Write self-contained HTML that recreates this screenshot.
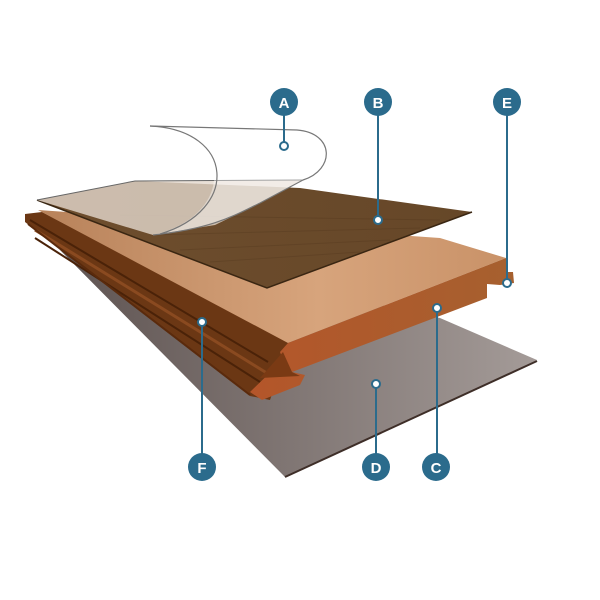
<!DOCTYPE html>
<html><head><meta charset="utf-8"><style>
html,body{margin:0;padding:0;background:#fff;}
svg{display:block;}
text{font-family:"Liberation Sans",sans-serif;font-weight:bold;font-size:15px;fill:#fff;text-anchor:middle;}
</style></head><body>
<svg width="600" height="600" viewBox="0 0 600 600" xmlns="http://www.w3.org/2000/svg">
<defs>
<linearGradient id="gray" x1="0" y1="0" x2="1" y2="0">
<stop offset="0" stop-color="#5d5250"/><stop offset="1" stop-color="#a49b98"/></linearGradient>
<linearGradient id="top" x1="0" y1="0" x2="1" y2="0">
<stop offset="0" stop-color="#b8825a"/><stop offset="0.6" stop-color="#d7a47c"/><stop offset="1" stop-color="#c99268"/></linearGradient>
<linearGradient id="endf" x1="0" y1="0" x2="1" y2="0">
<stop offset="0" stop-color="#b4562a"/><stop offset="1" stop-color="#a6602f"/></linearGradient>
<linearGradient id="ven" x1="0" y1="0" x2="1" y2="0">
<stop offset="0" stop-color="#6e4e2e"/><stop offset="1" stop-color="#664728"/></linearGradient>
</defs>
<polygon points="50,232 440,318 537,360 285,477 60,250" fill="url(#gray)"/>
<line x1="285" y1="477" x2="537" y2="361" stroke="#3e2e28" stroke-width="2"/>
<polygon points="25,214 42,212 290,342 270,400 250,396 25,222" fill="#6b3714"/>
<polyline points="30,220 268,362" stroke="#4a2208" stroke-width="2" fill="none"/>
<polyline points="35,230 270,375" stroke="#8a4a20" stroke-width="3" fill="none"/>
<polyline points="35,238 260,382" stroke="#4a2208" stroke-width="2" fill="none"/>
<polyline points="28,224 250,395" stroke="#5a2a0c" stroke-width="2" fill="none"/>
<polygon points="38,210 440,238 506,258 288,343" fill="url(#top)"/>
<polygon points="288,343 506,258 506,272 513,272 514,283 500,285 487,284 487,298 292,372 305,375 300,385 262,400 250,392 283,360 280,352" fill="url(#endf)"/>
<polygon points="283,352 292,372 300,376 260,378" fill="#7a3a14"/>
<polygon points="37,200 135,181 300,188 472,212 267,288" fill="url(#ven)"/>
<g stroke="#4a3018" stroke-width="1" opacity="0.25">
<line x1="120" y1="215" x2="440" y2="220"/><line x1="150" y1="235" x2="420" y2="228"/>
<line x1="180" y1="250" x2="390" y2="240"/><line x1="210" y1="262" x2="360" y2="252"/>
</g>
<polyline points="37,200 267,288 472,212" stroke="#3a2612" stroke-width="1.5" fill="none"/>
<polygon points="37,200 135,181 303,180 260,203 215,225 153,235" fill="#e3d8cd" opacity="0.8"/>
<path d="M37,200 L135,181 L303,180" stroke="#666" stroke-width="1" fill="none"/>
<path d="M150,126 L297,130 C335,133 335,170 303,180 L260,203 C235,215 215,228 153,235 C238,215 232,130 150,126 Z" fill="#fff" opacity="0.4"/>
<path d="M150,126 L297,130 C335,133 335,170 303,180 L260,203 C235,215 215,228 153,235" stroke="#777" stroke-width="1.2" fill="none"/>
<path d="M150,126 C235,130 240,210 160,234" stroke="#777" stroke-width="1.2" fill="none"/>
<g stroke="#2b6b8c" stroke-width="2" fill="none">
<line x1="284" y1="102" x2="284" y2="146"/>
<line x1="378" y1="102" x2="378" y2="220"/>
<line x1="507" y1="102" x2="507" y2="283"/>
<line x1="202" y1="467" x2="202" y2="322"/>
<line x1="376" y1="467" x2="376" y2="384"/>
<line x1="437" y1="467" x2="437" y2="308"/>
</g>
<g fill="#fff" stroke="#2b6b8c" stroke-width="2">
<circle cx="284" cy="146" r="4"/><circle cx="378" cy="220" r="4"/><circle cx="507" cy="283" r="4"/>
<circle cx="202" cy="322" r="4"/><circle cx="376" cy="384" r="4"/><circle cx="437" cy="308" r="4"/>
</g>
<g fill="#2b6b8c">
<circle cx="284" cy="102" r="14"/><circle cx="378" cy="102" r="14"/><circle cx="507" cy="102" r="14"/>
<circle cx="202" cy="467" r="14"/><circle cx="376" cy="467" r="14"/><circle cx="436" cy="467" r="14"/>
</g>
<text x="284" y="108">A</text><text x="378" y="108">B</text><text x="507" y="108">E</text>
<text x="202" y="473">F</text><text x="376" y="473">D</text><text x="436" y="473">C</text>
</svg>
</body></html>
